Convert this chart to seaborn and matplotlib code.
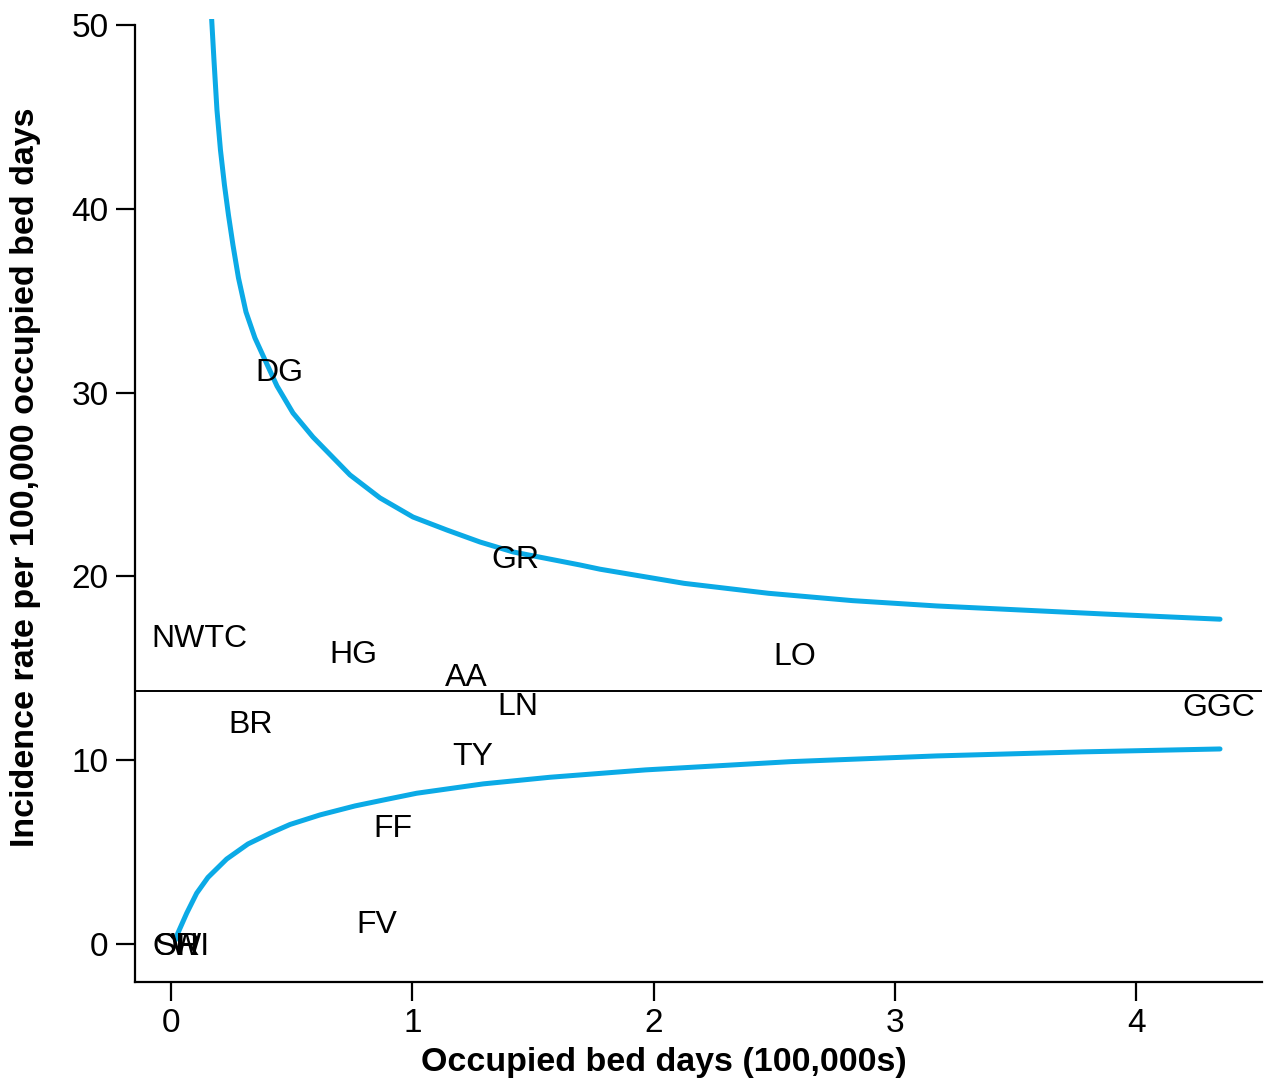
import matplotlib
matplotlib.use("Agg")
import matplotlib.pyplot as plt
import seaborn as sns
import pandas as pd

# ---- data ----
upper_x = [0.1687, 0.1782, 0.1906, 0.2051, 0.2217, 0.2383, 0.2569, 0.2797, 0.3108, 0.3481,
           0.3937, 0.4393, 0.5056, 0.5885, 0.7418, 0.8661, 1.0029, 1.1438, 1.2806, 1.4173,
           1.6950, 1.7779, 2.1268, 2.4757, 2.8243, 3.1732, 3.5222, 3.8707, 4.3470]
upper_y = [50.31, 48.10, 45.38, 43.20, 41.29, 39.66, 38.03, 36.24, 34.39, 32.97,
           31.66, 30.36, 28.89, 27.58, 25.52, 24.27, 23.23, 22.52, 21.87, 21.33,
           20.62, 20.39, 19.62, 19.08, 18.68, 18.39, 18.17, 17.95, 17.67]

lower_x = [0.0186, 0.0290, 0.0651, 0.1065, 0.1533, 0.2308, 0.3191, 0.4103, 0.4932, 0.6175,
           0.7626, 0.8798, 1.0182, 1.2943, 1.5707, 1.9660, 2.5686, 3.1716, 3.7741, 4.3470]
lower_y = [0.22, 0.60, 1.67, 2.76, 3.62, 4.62, 5.44, 6.02, 6.50, 7.02,
           7.51, 7.83, 8.20, 8.71, 9.07, 9.47, 9.92, 10.23, 10.45, 10.61]

mean_rate = 13.77

boards = ["DG", "GR", "NWTC", "HG", "LO", "AA", "LN", "GGC", "BR", "TY", "FF", "FV", "OR", "SH", "WI"]
bed_days = [0.448, 1.426, 0.116, 0.754, 2.586, 1.223, 1.438, 4.343, 0.332, 1.252, 0.920, 0.854, 0.025, 0.025, 0.080]
rates = [31.23, 21.06, 16.76, 15.89, 15.78, 14.64, 13.06, 13.00, 12.08, 10.34, 6.42, 1.20, 0.0, 0.0, 0.0]

# ---- style ----
sns.set_style("ticks")
plt.rcParams['font.family'] = ['Liberation Sans', 'DejaVu Sans']
plt.rcParams['text.color'] = 'black'
plt.rcParams['axes.labelcolor'] = 'black'
plt.rcParams['xtick.color'] = 'black'
plt.rcParams['ytick.color'] = 'black'

fig = plt.figure(figsize=(12.64, 10.79), dpi=100)
ax = fig.add_axes([135/1264, 1 - 982/1079, (1262 - 135)/1264, (982 - 19.3)/1079])

blue = "#0BAAE6"
df_up = pd.DataFrame({"x": upper_x, "y": upper_y})
df_lo = pd.DataFrame({"x": lower_x, "y": lower_y})
sns.lineplot(data=df_up, x="x", y="y", ax=ax, color=blue, linewidth=3.6,
             solid_capstyle="round", solid_joinstyle="round", sort=False)
sns.lineplot(data=df_lo, x="x", y="y", ax=ax, color=blue, linewidth=3.6,
             solid_capstyle="round", solid_joinstyle="round", sort=False)
ax.axhline(mean_rate, color="black", linewidth=1.4)

for lab, x, y in zip(boards, bed_days, rates):
    ax.text(x, y - 0.15, lab, ha="center", va="center", fontsize=23, color="black")

ax.set_xlim(-0.149, 4.521)
ax.set_ylim(-2.07, 50.31)
ax.set_xticks([0, 1, 2, 3, 4])
ax.set_yticks([0, 10, 20, 30, 40, 50])
ax.tick_params(axis="both", labelsize=24, length=14, width=1.6, pad=5,
               color="black", labelcolor="black")
for s in ["top", "right"]:
    ax.spines[s].set_visible(False)
for s in ["left", "bottom"]:
    ax.spines[s].set_linewidth(1.6)
    ax.spines[s].set_color("black")
ax.spines["left"].set_bounds(-2.07, 50)

ax.set_xlabel("Occupied bed days (100,000s)", fontsize=24.5, fontweight="bold")
ax.set_ylabel("Incidence rate per 100,000 occupied bed days", fontsize=24.5, fontweight="bold")
ax.xaxis.set_label_coords(0.469, -0.067)
ax.yaxis.set_label_coords(-0.083, 0.5246)

fig.savefig("out.png", dpi=100)
